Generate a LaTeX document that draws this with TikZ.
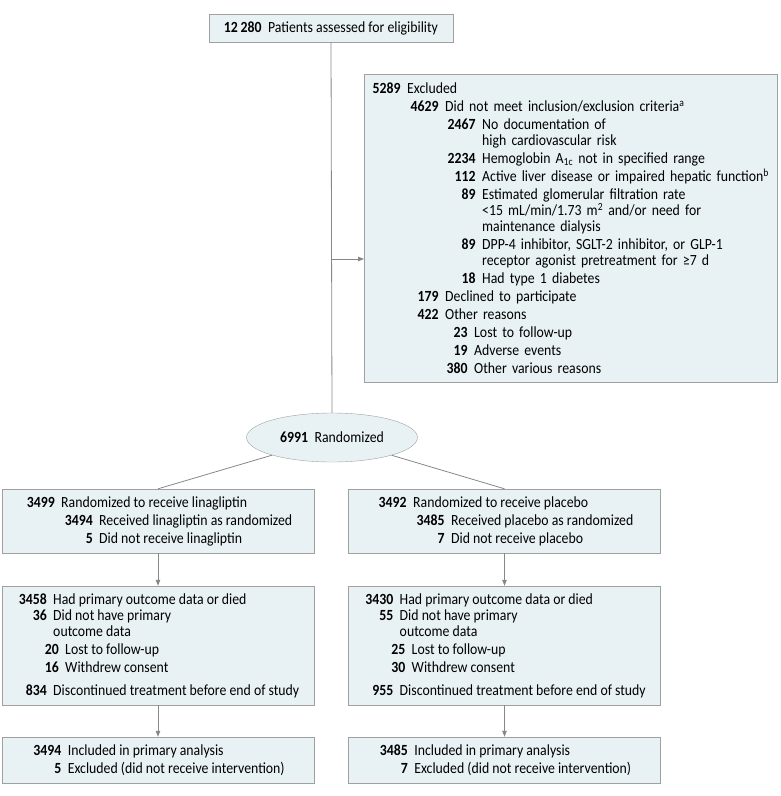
\documentclass[tikz,border=0pt]{standalone}
\usepackage{fontspec}
\setmainfont{Carlito}[FakeStretch=0.89]
\usetikzlibrary{arrows.meta,shapes.geometric,calc}
\definecolor{c0}{RGB}{232,242,245}
\definecolor{c1}{RGB}{160,160,160}
\definecolor{c2}{RGB}{135,135,135}
\tikzset{%
  box/.style={draw=c1,fill=c0,align=left,inner sep=0pt,minimum width=#1},
  box/.default=312pt,
  link/.style={draw=c2,line width=0.8pt},
  arr/.style={link,-{Triangle[length=6pt,width=4.5pt]}}
}
\newcommand{\nline}[3]{\makebox[#1][r]{\bfseries #2}\hspace{6.5pt}\mbox{#3}}

\begin{document}
\begin{tikzpicture}[x=1pt,y=-1pt,font=\fontsize{15.5}{18}\selectfont]
  \useasboundingbox (0,0) rectangle (780,796);
  \node[box=244pt,minimum height=28pt] (screen) at (331,28)
    {\textbf{12\,280}\hspace{6.5pt}Patients assessed for eligibility};
  \node[box=413pt,minimum height=308pt,text width=400pt,inner xsep=6.5pt,
    anchor=north west] (excl) at (364,74) {%
    \nline{30pt}{5289}{Excluded}\\
    \nline{68pt}{4629}{Did not meet inclusion/exclusion criteria\textsuperscript{a}}\\
    \nline{105pt}{2467}{No documentation of}\\[-2pt]
    \nline{105pt}{}{high cardiovascular risk}\\
    \nline{105pt}{2234}{Hemoglobin A\textsubscript{1c} not in specified range}\\
    \nline{105pt}{112}{Active liver disease or impaired hepatic function\textsuperscript{b}}\\
    \nline{105pt}{89}{Estimated glomerular filtration rate}\\[-2pt]
    \nline{105pt}{}{<15 mL/min/1.73 m\textsuperscript{2} and/or need for}\\[-2pt]
    \nline{105pt}{}{maintenance dialysis}\\
    \nline{105pt}{89}{DPP-4 inhibitor, SGLT-2 inhibitor, or GLP-1}\\[-2pt]
    \nline{105pt}{}{receptor agonist pretreatment for ≥7 d}\\
    \nline{105pt}{18}{Had type 1 diabetes}\\
    \nline{68pt}{179}{Declined to participate}\\
    \nline{68pt}{422}{Other reasons}\\
    \nline{97pt}{23}{Lost to follow-up}\\
    \nline{97pt}{19}{Adverse events}\\
    \nline{97pt}{380}{Other various reasons}};
  \node[draw=c1,fill=c0,ellipse,minimum width=171pt,minimum height=49pt,
    inner sep=0pt] (rand) at (332,437.5) {\textbf{6991}\hspace{6.5pt}Randomized};
  %%% linagliptin arm
  \node[box,minimum height=64pt] (lin1) at (158,521) {%
    \nline{31pt}{3499}{Randomized to receive linagliptin}\\
    \nline{69pt}{3494}{Received linagliptin as randomized}\\
    \nline{69pt}{5}{Did not receive linagliptin}};
  \node[box,minimum height=119pt] (lin2) at (158,645.5) {%
    \nline{30pt}{3458}{Had primary outcome data or died}\\[-2pt]
    \nline{30pt}{36}{Did not have primary}\\[-2pt]
    \nline{30pt}{}{outcome data}\\
    \nline{42pt}{20}{Lost to follow-up}\\
    \nline{42pt}{16}{Withdrew consent}\\[5pt]
    \nline{30pt}{834}{Discontinued treatment before end of study}};
  \node[box,minimum height=46pt] (lin3) at (158,760) {%
    \nline{30pt}{3494}{Included in primary analysis}\\
    \nline{30pt}{5}{Excluded (did not receive intervention)}};
  %%% placebo arm
  \node[box,minimum height=64pt] (pla1) at (504.5,521) {%
    \nline{31pt}{3492}{Randomized to receive placebo}\\
    \nline{69pt}{3485}{Received placebo as randomized}\\
    \nline{69pt}{7}{Did not receive placebo}};
  \node[box,minimum height=119pt] (pla2) at (504.5,645.5) {%
    \nline{30pt}{3430}{Had primary outcome data or died}\\[-2pt]
    \nline{30pt}{55}{Did not have primary}\\[-2pt]
    \nline{30pt}{}{outcome data}\\
    \nline{42pt}{25}{Lost to follow-up}\\
    \nline{42pt}{30}{Withdrew consent}\\[5pt]
    \nline{30pt}{955}{Discontinued treatment before end of study}};
  \node[box,minimum height=46pt] (pla3) at (504.5,760) {%
    \nline{30pt}{3485}{Included in primary analysis}\\
    \nline{30pt}{7}{Excluded (did not receive intervention)}};
  %%% connectors
  \coordinate (split) at (332,259);
  \draw[link] (screen.south) -- (rand.north);
  \draw[arr] (split) -- (split -| excl.west);
  \draw[link] (rand) -- (lin1.north);
  \draw[link] (rand) -- (pla1.north);
  \draw[arr] (lin1) -- (lin2);
  \draw[arr] (lin2) -- (lin3);
  \draw[arr] (pla1) -- (pla2);
  \draw[arr] (pla2) -- (pla3);
\end{tikzpicture}
\end{document}
